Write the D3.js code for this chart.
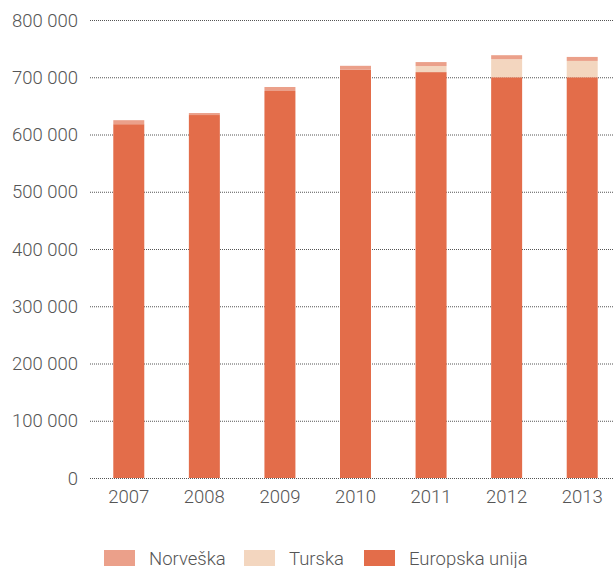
<!DOCTYPE html>
<html>
<head>
<meta charset="utf-8">
<script src="https://cdn.jsdelivr.net/npm/d3@7"></script>
<style>
  body { margin: 0; background: #fff; }
  text { font-family: "Roboto", "Liberation Sans", sans-serif; font-weight: 300; fill: #555; }
</style>
</head>
<body>
<script>
var years = ["2007", "2008", "2009", "2010", "2011", "2012", "2013"];
var europskaUnija = [618000, 634000, 676000, 713000, 709000, 700000, 700000];
var turska = [0, 0, 0, 0, 10500, 31500, 28500];
var norveska = [7000, 3500, 7000, 7000, 7000, 7000, 7000];
var yTicks = [0, 100000, 200000, 300000, 400000, 500000, 600000, 700000, 800000];
var seriesNames = ["Norveška", "Turska", "Europska unija"];

var colors = {
  "Europska unija": "#e36d4a",
  "Turska": "#f3d6bf",
  "Norveška": "#eba08a"
};

var width = 613, height = 568;

var svg = d3.select("body").append("svg")
    .attr("width", width)
    .attr("height", height);

var x = d3.scaleBand()
    .domain(years)
    .range([91, 620])
    .paddingInner(0.59)
    .paddingOuter(0.295);

var y = d3.scaleLinear()
    .domain([0, 800000])
    .range([478, 20]);

var fmt = function(d) { return d3.format(",")(d).replace(/,/g, " "); };

// gridlines
svg.append("g").selectAll("line")
    .data(yTicks.filter(function(d) { return d > 0; }))
  .enter().append("line")
    .attr("x1", 90).attr("x2", width)
    .attr("y1", function(d) { return y(d) + 0.5; })
    .attr("y2", function(d) { return y(d) + 0.5; })
    .attr("stroke", "#555")
    .attr("stroke-dasharray", "1,1");

svg.append("g").selectAll("text")
    .data(yTicks)
  .enter().append("text")
    .attr("x", 78)
    .attr("y", function(d) { return y(d); })
    .attr("dy", "0.36em")
    .attr("text-anchor", "end")
    .style("font-size", "18.5px")
    .text(fmt);

// stacked bars
var rows = years.map(function(yr, i) {
  return {year: yr, "Europska unija": europskaUnija[i], "Turska": turska[i], "Norveška": norveska[i]};
});
var stack = d3.stack().keys(["Europska unija", "Turska", "Norveška"]);

svg.append("g").selectAll("g")
    .data(stack(rows))
  .enter().append("g")
    .attr("fill", function(d) { return colors[d.key]; })
  .selectAll("rect")
    .data(function(d) { return d; })
  .enter().append("rect")
    .attr("x", function(d) { return x(d.data.year); })
    .attr("width", x.bandwidth())
    .attr("y", function(d) { return y(d[1]); })
    .attr("height", function(d) { return y(d[0]) - y(d[1]); });

// baseline
svg.append("line")
    .attr("x1", 90).attr("x2", width)
    .attr("y1", y(0) + 0.5).attr("y2", y(0) + 0.5)
    .attr("stroke", "#555")
    .attr("stroke-dasharray", "1,1");

// x labels
svg.append("g").selectAll("text")
    .data(years)
  .enter().append("text")
    .attr("x", function(d) { return x(d) + x.bandwidth() / 2; })
    .attr("y", 503)
    .attr("text-anchor", "middle")
    .style("font-size", "18.5px")
    .text(function(d) { return d; });

// legend
var legendX = [104, 244, 364];
var legend = svg.append("g").selectAll("g")
    .data(seriesNames)
  .enter().append("g")
    .attr("transform", function(d, i) { return "translate(" + legendX[i] + ",550)"; });

legend.append("rect")
    .attr("width", 31)
    .attr("height", 16)
    .attr("fill", function(d) { return colors[d]; });

legend.append("text")
    .attr("x", 45)
    .attr("y", 14.5)
    .style("font-size", "18.5px")
    .text(function(d) { return d; });
</script>
</body>
</html>
